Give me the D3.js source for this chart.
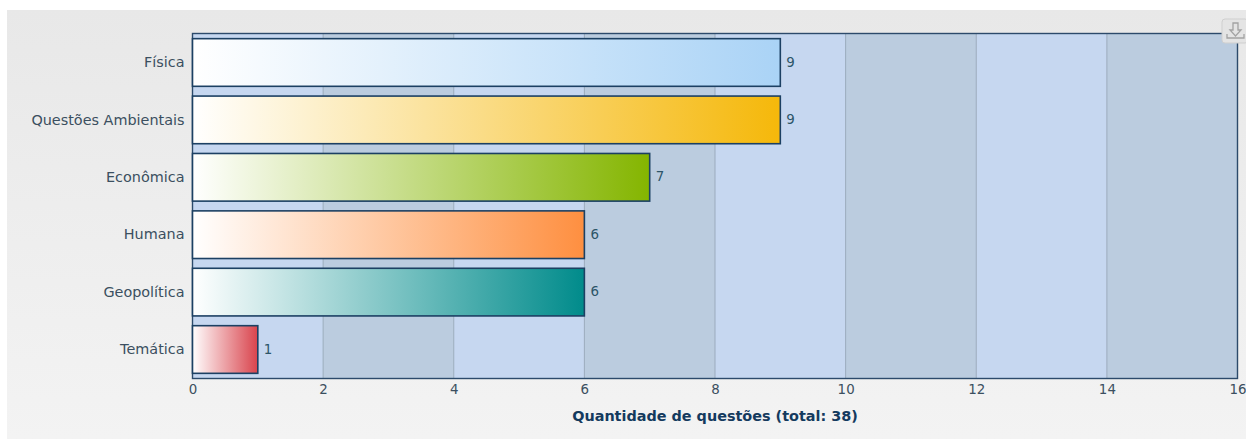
<!DOCTYPE html>
<html>
<head>
<meta charset="utf-8">
<script src="https://cdn.jsdelivr.net/npm/d3@7"></script>
<style>
  html, body { margin: 0; padding: 0; background: #fff; }
  svg { display: block; }
  text { font-family: "DejaVu Sans", sans-serif; }
</style>
</head>
<body>
<script>
// chart data
const categories = ["Física", "Questões Ambientais", "Econômica", "Humana", "Geopolítica", "Temática"];
const values = [9, 9, 7, 6, 6, 1];
const barColors = ["#aad3f6", "#f5b80a", "#84b500", "#fe8f40", "#008b8b", "#d9434c"];
const xTicks = [0, 2, 4, 6, 8, 10, 12, 14, 16];
const xTitle = "Quantidade de questões (total: 38)";

const width = 1246, height = 439;
const margin = {top: 33.5, left: 192.5, bottom: 60.5, right: 8.5};
const plotW = width - margin.left - margin.right;
const plotH = height - margin.top - margin.bottom;
const fontSize = 14.4;

const svg = d3.select("body").append("svg")
    .attr("width", width)
    .attr("height", height);

const defs = svg.append("defs");

// panel background gradient
const bgGrad = defs.append("linearGradient")
    .attr("id", "panelBg")
    .attr("x1", 0).attr("y1", 0).attr("x2", 0).attr("y2", 1);
bgGrad.append("stop").attr("offset", "0%").attr("stop-color", "#e8e8e8");
bgGrad.append("stop").attr("offset", "100%").attr("stop-color", "#f3f3f3");

barColors.forEach(function(c, i) {
  const g = defs.append("linearGradient")
      .attr("id", "bar" + i)
      .attr("x1", 0).attr("y1", 0).attr("x2", 1).attr("y2", 0);
  g.append("stop").attr("offset", "0%").attr("stop-color", "#ffffff");
  g.append("stop").attr("offset", "100%").attr("stop-color", c);
});

svg.append("rect")
    .attr("x", 7).attr("y", 10)
    .attr("width", width - 7).attr("height", height - 10)
    .attr("fill", "url(#panelBg)");

const x = d3.scaleLinear().domain([0, 16]).range([0, plotW]);
const y = d3.scaleBand().domain(categories).range([0, plotH]).paddingInner(0.17).paddingOuter(0.09);

const plot = svg.append("g")
    .attr("transform", `translate(${margin.left}, ${margin.top})`);

// alternating bands
plot.selectAll("rect.band")
    .data(xTicks.slice(0, -1))
  .enter().append("rect")
    .attr("class", "band")
    .attr("x", d => x(d))
    .attr("y", 0)
    .attr("width", d => x(d + 2) - x(d))
    .attr("height", plotH)
    .attr("fill", (d, i) => i % 2 === 0 ? "#c6d7f0" : "#bbccdf");

// grid lines
plot.selectAll("line.grid")
    .data(xTicks.slice(1, -1))
  .enter().append("line")
    .attr("class", "grid")
    .attr("x1", d => x(d)).attr("x2", d => x(d))
    .attr("y1", 0).attr("y2", plotH)
    .attr("stroke", "#9aabbd")
    .attr("stroke-width", 1);

// plot frame
plot.append("rect")
    .attr("width", plotW).attr("height", plotH)
    .attr("fill", "none")
    .attr("stroke", "#2c4a6b")
    .attr("stroke-width", 1.4);

// bars
plot.selectAll("rect.bar")
    .data(values)
  .enter().append("rect")
    .attr("class", "bar")
    .attr("x", 0)
    .attr("y", (d, i) => y(categories[i]))
    .attr("width", d => x(d))
    .attr("height", y.bandwidth())
    .attr("fill", (d, i) => `url(#bar${i})`)
    .attr("stroke", "#1c4063")
    .attr("stroke-width", 1.6);

// value labels
plot.selectAll("text.val")
    .data(values)
  .enter().append("text")
    .attr("class", "val")
    .attr("x", d => x(d) + 6)
    .attr("y", (d, i) => y(categories[i]) + y.bandwidth() / 2)
    .attr("dy", "0.3em")
    .attr("font-size", fontSize - 1)
    .attr("fill", "#2c5568")
    .text(d => d);

// y axis labels
const yAxis = plot.append("g")
    .call(d3.axisLeft(y).tickSize(0).tickPadding(8));
yAxis.select(".domain").remove();
yAxis.selectAll("text")
    .attr("font-size", fontSize)
    .style("font-family", '"DejaVu Sans", sans-serif')
    .attr("fill", "#3b4f60");

// x axis
const xAxis = plot.append("g")
    .attr("transform", `translate(0, ${plotH})`)
    .call(d3.axisBottom(x).tickValues(xTicks).tickSize(0).tickPadding(6));
xAxis.select(".domain").remove();
xAxis.selectAll("text")
    .attr("font-size", fontSize - 1)
    .style("font-family", '"DejaVu Sans", sans-serif')
    .attr("fill", "#3b4f60");

// x title
svg.append("text")
    .attr("x", 715).attr("y", 421)
    .attr("text-anchor", "middle")
    .attr("font-size", fontSize)
    .attr("font-weight", "bold")
    .attr("fill", "#143a5e")
    .text(xTitle);

// export button, top right
const btn = svg.append("g").attr("transform", "translate(1222, 19)");
btn.append("rect")
    .attr("width", 26).attr("height", 24).attr("rx", 3)
    .attr("fill", "#e4e4e4").attr("stroke", "#cfcfcf");
btn.append("path")
    .attr("d", "M11 4h5v7h3l-5.5 6-5.5-6h3z M5 15v4h17v-4")
    .attr("fill", "none").attr("stroke", "#a3a3a3").attr("stroke-width", 1.3);
</script>
</body>
</html>
